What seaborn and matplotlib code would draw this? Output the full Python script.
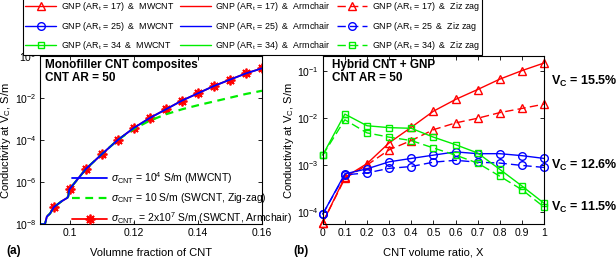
import matplotlib
matplotlib.use("Agg")
import matplotlib.pyplot as plt
from matplotlib.lines import Line2D
import seaborn as sns

sns.set_style("ticks")
plt.rcParams['font.family'] = ['Liberation Sans', 'DejaVu Sans']
plt.rcParams['mathtext.fontset'] = 'custom'
plt.rcParams['mathtext.rm'] = 'Liberation Sans'
plt.rcParams['mathtext.it'] = 'Liberation Sans:italic'
plt.rcParams['mathtext.bf'] = 'Liberation Sans:bold'
for k in ['axes.edgecolor', 'text.color', 'axes.labelcolor', 'xtick.color', 'ytick.color']:
    plt.rcParams[k] = 'black'

# (a) monofiller CNT composites, conductivity vs volume fraction
vf = [0.0908, 0.0922, 0.0928, 0.0938, 0.095, 0.0975, 0.0992, 0.0995, 0.0998, 0.100,
      0.105, 0.110, 0.115, 0.120, 0.125, 0.130, 0.135, 0.140, 0.145, 0.150, 0.155, 0.160]
sig_mwcnt = [1.0e-8, 1.0e-8, 2.3e-8, 3.2e-8, 6.5e-8, 1.26e-7, 1.8e-7, 2.2e-7, 4.4e-7, 4.9e-7,
             4.3e-6, 2.2e-5, 1.05e-4, 3.9e-4, 1.17e-3, 3.0e-3, 7.8e-3, 1.74e-2, 3.9e-2, 7.8e-2, 0.155, 0.27]
sig_arm = [1.0e-8, 1.0e-8, 2.3e-8, 3.2e-8, 6.5e-8, 1.26e-7, 1.8e-7, 2.2e-7, 4.4e-7, 4.9e-7,
           4.3e-6, 2.2e-5, 1.05e-4, 3.9e-4, 1.17e-3, 3.0e-3, 7.8e-3, 1.74e-2, 3.9e-2, 7.8e-2, 0.155, 0.27]
sig_zig = [1.0e-8, 1.0e-8, 2.3e-8, 3.2e-8, 6.5e-8, 1.26e-7, 1.8e-7, 2.2e-7, 4.4e-7, 4.9e-7,
           4.3e-6, 2.2e-5, 1.05e-4, 3.5e-4, 8.7e-4, 1.74e-3, 3.0e-3, 4.7e-3, 7.1e-3, 1.07e-2, 1.62e-2, 2.3e-2]
star_vf = [0.095, 0.100, 0.105, 0.110, 0.115, 0.120, 0.125, 0.130, 0.135, 0.140, 0.145, 0.150, 0.155, 0.160]

# (b) hybrid CNT + GNP, conductivity vs CNT volume ratio
x_ratio = [0, 0.1, 0.2, 0.3, 0.4, 0.5, 0.6, 0.7, 0.8, 0.9, 1.0]
ar17_mw = [6.0e-5, 5.5e-4, 1.07e-3, 2.95e-3, 6.3e-3, 1.38e-2, 2.45e-2, 3.98e-2, 6.6e-2, 0.10, 0.145]
ar17_zz = [6.0e-5, 5.2e-4, 1.0e-3, 2.1e-3, 3.3e-3, 5.6e-3, 7.8e-3, 9.8e-3, 1.29e-2, 1.58e-2, 1.95e-2]
ar25_mw = [9.1e-5, 6.5e-4, 8.3e-4, 1.17e-3, 1.38e-3, 1.62e-3, 1.9e-3, 1.74e-3, 1.74e-3, 1.58e-3, 1.38e-3]
ar25_zz = [9.1e-5, 6.2e-4, 6.8e-4, 8.5e-4, 9.3e-4, 1.15e-3, 1.26e-3, 1.15e-3, 1.10e-3, 9.8e-4, 8.9e-4]
ar34_mw = [1.62e-3, 1.2e-2, 6.8e-3, 6.2e-3, 6.0e-3, 3.9e-3, 2.7e-3, 1.8e-3, 8.1e-4, 3.6e-4, 1.55e-4]
ar34_zz = [1.62e-3, 9.1e-3, 4.8e-3, 3.9e-3, 3.3e-3, 2.3e-3, 1.62e-3, 1.1e-3, 5.8e-4, 3.0e-4, 1.29e-4]

fig = plt.figure(figsize=(6.16, 2.6), dpi=100)
ax1 = fig.add_axes([0.0657, 0.138, 0.3596, 0.645])
ax2 = fig.add_axes([0.5239, 0.138, 0.3593, 0.645])

RED, BLUE, GREEN = '#ff0000', '#0000ff', '#00ee00'


def draw(ax, x, y, color, ls='-', marker=None, lw=1.0, ms=5, **kw):
    sns.lineplot(x=x, y=y, ax=ax, color=color, linestyle=ls, marker=marker, markersize=ms,
                 markerfacecolor='none', markeredgecolor=color, markeredgewidth=lw,
                 linewidth=lw, **kw)
    return ax.lines[-1]


# panel (a)
star_idx = [vf.index(v) for v in star_vf]
h_arm = draw(ax1, vf, sig_arm, RED, marker=(8, 2, 0), lw=1.3, ms=7, markevery=star_idx)
h_zig = draw(ax1, vf, sig_zig, GREEN, ls=(0, (3.5, 2.5)), lw=1.6)
h_mw = draw(ax1, vf, sig_mwcnt, BLUE, lw=1.3)
ax1.set_yscale('log')
ax1.set_xlim(0.0908, 0.16)
ax1.set_ylim(1e-8, 1e0)
ax1.set_yticks([1e-8, 1e-6, 1e-4, 1e-2, 1e0])
ax1.set_xticks([0.1, 0.12, 0.14, 0.16])
ax1.set_xticklabels(['0.1', '0.12', '0.14', '0.16'])
ax1.legend([h_mw, h_zig, h_arm],
           [r"$\sigma_{\rm CNT}$ = 10$^4$ S/m (MWCNT)",
            r"$\sigma_{\rm CNT}$ = 10 S/m (SWCNT, Zig-zag)",
            r"$\sigma_{\rm CNT,}$ = 2x10$^7$ S/m (SWCNT, Armchair)"],
           loc='lower left', bbox_to_anchor=(0.10, -0.075), frameon=False, fontsize=7.5,
           handlelength=3.4, handletextpad=0.3, labelspacing=0.55)
ax1.text(0.02, 0.985, "Monofiller CNT composites\nCNT AR = 50", transform=ax1.transAxes,
         ha='left', va='top', fontsize=8.5, fontweight='bold', linespacing=1.1)
ax1.set_xlabel("Volumne fraction of CNT", fontsize=8)
ax1.set_ylabel(r"Conductivity at V$_{\rm C}$, S/m", fontsize=8)

# panel (b)
l17 = draw(ax2, x_ratio, ar17_mw, RED, marker='^', lw=1.0, ms=6, clip_on=False)
z17 = draw(ax2, x_ratio, ar17_zz, RED, ls=(0, (6, 3)), marker='^', lw=1.0, ms=6, clip_on=False)
l25 = draw(ax2, x_ratio, ar25_mw, BLUE, marker='o', lw=1.0, ms=5.5, clip_on=False)
z25 = draw(ax2, x_ratio, ar25_zz, BLUE, ls=(0, (6, 3)), marker='o', lw=1.0, ms=5.5, clip_on=False)
l34 = draw(ax2, x_ratio, ar34_mw, GREEN, marker='s', lw=1.0, ms=5, clip_on=False)
z34 = draw(ax2, x_ratio, ar34_zz, GREEN, ls=(0, (6, 3)), marker='s', lw=1.0, ms=5, clip_on=False)
ax2.set_yscale('log')
ax2.set_xlim(0, 1)
ax2.set_ylim(5.6e-5, 0.2)
ax2.set_yticks([1e-4, 1e-3, 1e-2, 1e-1])
ax2.set_xticks(x_ratio)
ax2.set_xticklabels(['0', '0.1', '0.2', '0.3', '0.4', '0.5', '0.6', '0.7', '0.8', '0.9', '1'])
ax2.text(0.04, 0.985, "Hybrid CNT + GNP\nCNT AR = 50", transform=ax2.transAxes,
         ha='left', va='top', fontsize=8.5, fontweight='bold', linespacing=1.1)
ax2.set_xlabel("CNT volume ratio, X", fontsize=8)
ax2.set_ylabel(r"Conductivity at V$_{\rm C}$, S/m", fontsize=8)

for ax in (ax1, ax2):
    ax.minorticks_off()
    ax.tick_params(direction='in', top=True, right=True, length=3, width=0.6,
                   labelsize=7.5, pad=3)
    for s in ax.spines.values():
        s.set_linewidth(0.8)
        s.set_color('black')
    ax.yaxis.set_label_coords(-0.122, 0.5)
    ax.xaxis.set_label_coords(0.5, -0.14)

# V_C labels on the right of panel (b)
for txt, yy in [("15.5%", 0.686), ("12.6%", 0.365), ("11.5%", 0.204)]:
    fig.text(0.894, yy, r"$\mathbf{V_C}$ = " + txt, fontsize=9, fontweight='bold',
             ha='left', va='center')

fig.text(0.011, 0.035, "(a)", fontsize=8.5, fontweight='bold', ha='left', va='center')
fig.text(0.476, 0.035, "(b)", fontsize=8.5, fontweight='bold', ha='left', va='center')

# shared legend along the top
p17 = Line2D([], [], color=RED, lw=1.0)
p25 = Line2D([], [], color=BLUE, lw=1.0)
p34 = Line2D([], [], color=GREEN, lw=1.0)
handles = [l17, l25, l34, p17, p25, p34, z17, z25, z34]
labels = ["GNP (AR$_{\\rm t}$ = 17)  &  MWCNT",
          "GNP (AR$_{\\rm t}$ = 25)  &  MWCNT",
          "GNP (AR$_{\\rm t}$ = 34  &  MWCNT",
          "GNP (AR$_{\\rm t}$ = 17)  &  Armchair",
          "GNP (AR$_{\\rm t}$ = 25)  &  Armchair",
          "GNP (AR$_{\\rm t}$ = 34)  &  Armchair",
          "GNP (AR$_{\\rm t}$ = 17)  &  Ziz zag",
          "GNP (AR$_{\\rm t}$ = 25  &  Ziz zag",
          "GNP (AR$_{\\rm t}$ = 34)  &  Ziz zag"]
leg = fig.legend(handles, labels, ncol=3, loc='lower left', bbox_to_anchor=(0.037, 0.788),
                 frameon=True, fancybox=False, edgecolor='black', framealpha=1,
                 fontsize=6.4, handlelength=3.4, handletextpad=0.55, columnspacing=0.7,
                 labelspacing=0.75, borderaxespad=0, borderpad=0.3)
leg.get_frame().set_linewidth(0.8)

fig.savefig("out.png", dpi=100)
